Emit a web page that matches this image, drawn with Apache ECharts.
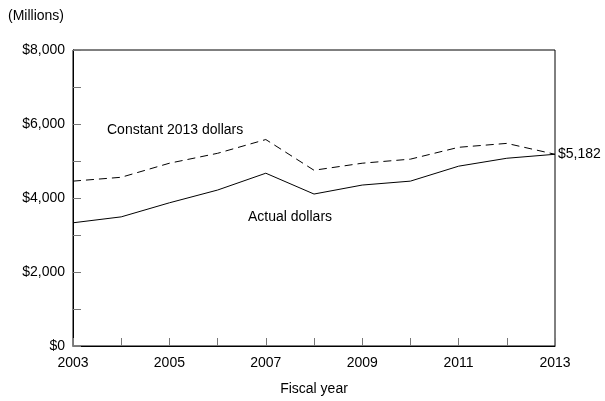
<!DOCTYPE html>
<html><head><meta charset="utf-8">
<script src="https://cdn.jsdelivr.net/npm/echarts@6/dist/echarts.min.js"></script>
<style>html,body{margin:0;padding:0;background:#fff}#c{width:605px;height:401px}</style>
</head><body><div id="c"></div>
<script>
const years = ['2003','2004','2005','2006','2007','2008','2009','2010','2011','2012','2013'];
const actualDollars = [3330, 3490, 3870, 4215, 4670, 4107, 4350, 4456, 4860, 5074, 5182];
const constant2013 = [4456, 4560, 4940, 5208, 5580, 4750, 4940, 5050, 5370, 5476, 5182];
const yTicks = [0, 2000, 4000, 6000, 8000];
const FONT = '"Liberation Sans Narrow", "Arial Narrow", "Liberation Sans", sans-serif';

const chart = echarts.init(document.getElementById('c'));
chart.setOption({
  animation: false,
  grid: {left: 73, top: 50, right: 50, bottom: 53, show: true, borderColor: '#000', borderWidth: 1, backgroundColor: 'transparent'},
  xAxis: {
    type: 'category', data: years, boundaryGap: false,
    name: 'Fiscal year', nameLocation: 'middle', nameGap: 36,
    nameTextStyle: {fontFamily: FONT, fontSize: 14, color: '#000'},
    axisLine: {lineStyle: {color: '#000', width: 1}},
    axisTick: {show: true, inside: true, length: 8, interval: 0, lineStyle: {color: '#777'}},
    axisLabel: {interval: 1, margin: 10, fontFamily: FONT, fontSize: 14, color: '#000'},
    splitLine: {show: false}
  },
  yAxis: {
    type: 'value', min: 0, max: 8000, interval: 1000,
    axisLine: {show: true, lineStyle: {color: '#000', width: 1}},
    axisTick: {show: true, inside: true, length: 8, lineStyle: {color: '#777'}},
    axisLabel: {margin: 8, fontFamily: FONT, fontSize: 14, color: '#000',
      formatter: v => yTicks.includes(v) ? '$' + v.toLocaleString('en-US') : ''},
    splitLine: {show: false}
  },
  series: [
    {type: 'line', data: constant2013, symbol: 'none', lineStyle: {color: '#000', width: 1, type: [8, 5]}},
    {type: 'line', data: actualDollars, symbol: 'none', lineStyle: {color: '#000', width: 1},
      endLabel: {show: true, formatter: p => '$' + p.value.toLocaleString('en-US'), fontFamily: FONT, fontSize: 14, color: '#000', distance: 3}}
  ],
  graphic: [
    {type: 'text', left: 8, top: 9, style: {text: '(Millions)', font: '14px ' + FONT, fill: '#000'}},
    {type: 'text', left: 107, top: 123, style: {text: 'Constant 2013 dollars', font: '14px ' + FONT, fill: '#000'}},
    {type: 'text', left: 248, top: 210, style: {text: 'Actual dollars', font: '14px ' + FONT, fill: '#000'}}
  ]
});
</script></body></html>
